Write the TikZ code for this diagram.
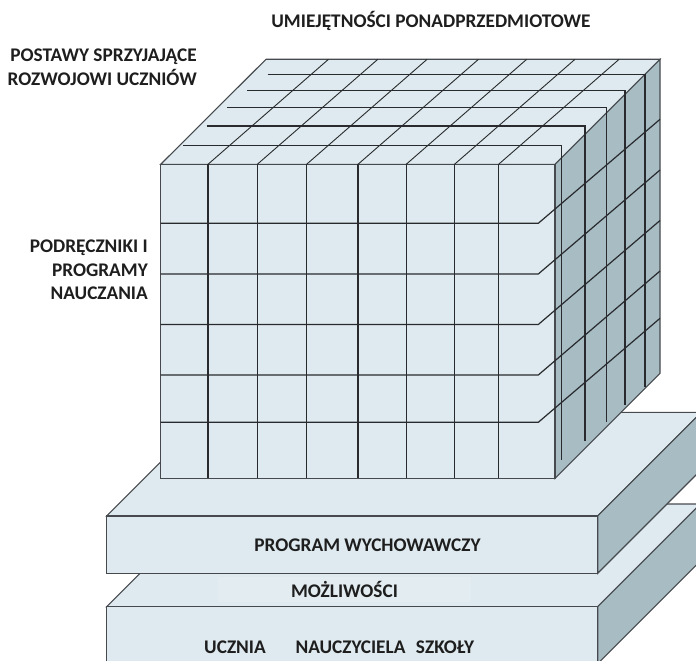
\documentclass[tikz,border=0pt]{standalone}
\usepackage{fontspec}
\setmainfont{Carlito}
\definecolor{facelight}{RGB}{222,234,239}
\definecolor{facedark}{RGB}{167,188,195}
\definecolor{edgegray}{RGB}{70,74,78}
\definecolor{gridline}{RGB}{40,42,45}
\definecolor{labeltext}{RGB}{30,30,30}
\begin{document}
\begin{tikzpicture}[x=1pt,y=-1pt,
  lightface/.style={fill=facelight, draw=edgegray, line width=1.1pt, line join=miter},
  darkface/.style={fill=facedark, draw=edgegray, line width=1.1pt, line join=miter},
  gridln/.style={draw=gridline, line width=1.2pt},
  thingrid/.style={draw=gridline, line width=0.9pt},
  lbl/.style={font=\bfseries\fontsize{19.3}{23.5}\selectfont, text=labeltext, inner sep=0pt}]
\useasboundingbox (0,0) rectangle (696,661);
\clip (0,0) rectangle (696,661);

% lower slab
\draw[lightface] (106.7,606.7) -- (209.4,504) -- (700.4,504) -- (597.7,606.7) -- cycle;
\draw[darkface] (597.7,606.7) -- (700.4,504) -- (700.4,561) -- (597.7,663.7) -- cycle;
\draw[lightface] (106.7,606.7) rectangle (597.7,663.7);

% upper slab
\draw[lightface] (106.7,516) -- (210.4,412.3) -- (701.4,412.3) -- (597.7,516) -- cycle;
\draw[darkface] (597.7,516) -- (701.4,412.3) -- (701.4,469.6) -- (597.7,573.3) -- cycle;
\draw[lightface] (106.7,516) rectangle (597.7,573.3);

% cube faces
\draw[lightface] (160.7,164.3) -- (266,59.3) -- (660,59.3) -- (555,164.3) -- cycle;
\draw[darkface] (555,164.3) -- (660,59.3) -- (660,373.3) -- (555,478.3) -- cycle;
\draw[lightface] (160.7,164.3) rectangle (555,478.3);

% receding lines on the top face
\foreach \x in {208,257.3,306.6,358,406.2,454.5,498.6}
  \draw[thingrid] (\x,164.3) -- ++(120.5,-105);

% front columns
\foreach \x in {208,257.3,306.6,358,406.2,454.5,498.6}
  \draw[gridln] (\x,164.3) -- (\x,478.3);

% front rows turning onto the side face
\foreach \y in {223.3,274,324.5,375,422.3}
  \draw[gridln] (160.7,\y) -- (538.3,\y) -- ++(121.7,-104);

% layer edges: across the top, then down the side
\foreach \y/\xs/\xe/\ye in {74.3/267.7/645/386.7, 90.7/247/625/405,
    107.7/227/606.7/422.3, 126/206.7/585/441, 145.7/183.3/561.7/460}
  \draw[gridln] (\xs,\y) -- (\xe,\y) -- (\xe,\ye);

% labels
\node[lbl] (umiej) at (431,21) {UMIEJĘTNOŚCI PONADPRZEDMIOTOWE};
\node[lbl, align=right, anchor=east] (postawy) at (197,67) {POSTAWY SPRZYJAJĄCE\\ROZWOJOWI UCZNIÓW};
\node[lbl, align=right, anchor=east] (podr) at (148,270) {PODRĘCZNIKI I\\PROGRAMY\\NAUCZANIA};
\node[lbl] (progwych) at (367.5,545) {PROGRAM WYCHOWAWCZY};
\node[lbl, fill=white, fill opacity=0.18, text opacity=1, minimum width=253pt, minimum height=25pt] (mozl) at (344.5,589.5) {MOŻLIWOŚCI};
\node[lbl] (ucznia) at (235,647) {UCZNIA};
\node[lbl] (naucz) at (350.5,647) {NAUCZYCIELA};
\node[lbl] (szkoly) at (445,647) {SZKOŁY};
\end{tikzpicture}
\end{document}
